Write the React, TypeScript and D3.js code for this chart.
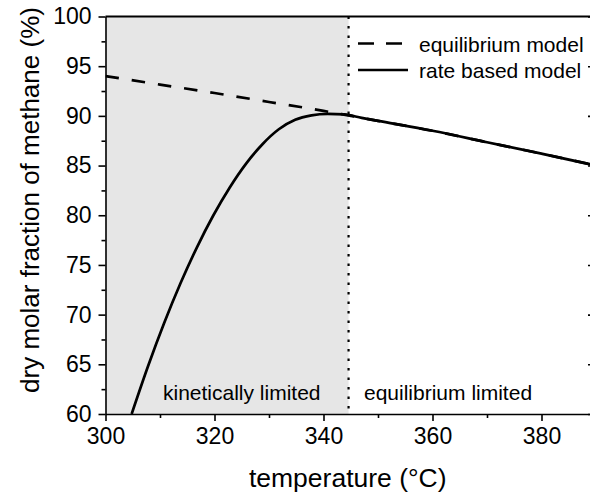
import React, { useEffect, useRef } from 'react';
import * as d3 from 'd3';

// equilibrium model (°C -> %)
const eqTemps = [300, 310, 320, 330, 340, 345, 350, 360, 370, 380, 390, 400];
const eqValues = [94.0, 93.15, 92.3, 91.4, 90.5, 90.0, 89.5, 88.5, 87.35, 86.2, 85.0, 83.7];

// rate based model
const rateTemps = [304.8, 307.8, 310.8, 313.8, 316.8, 319.8, 322.8, 325.8, 328.8, 331.8, 334.8, 337.8, 340.8, 343.8, 347, 350, 360, 370, 380, 390, 400];
const rateValues = [60.0, 64.8, 69.2, 73.2, 76.8, 80.0, 82.8, 85.2, 87.15, 88.65, 89.6, 90.05, 90.2, 90.15, 89.8, 89.5, 88.5, 87.35, 86.2, 85.0, 83.7];

const xMajor = [300, 320, 340, 360, 380];
const xMinor = [310, 330, 350, 370, 390];
const yMajor = [60, 65, 70, 75, 80, 85, 90, 95, 100];
const yMinor = [62.5, 67.5, 72.5, 77.5, 82.5, 87.5, 92.5, 97.5];

const boundaryTemp = 344.6;
const legendLabels = ['equilibrium model', 'rate based model'];
const regionLabels = ['kinetically limited', 'equilibrium limited'];

const W = 590;
const H = 494;
const FONT = '"Liberation Sans", Arial, sans-serif';

export default function App() {
  const svgRef = useRef<SVGSVGElement>(null);

  useEffect(() => {
    const svg = d3.select(svgRef.current);
    svg.selectAll('*').remove();

    const left = 105.5, top = 16.5, bottom = 414, right = 596;
    const x = d3.scaleLinear().domain([300, 390]).range([left, right]);
    const y = d3.scaleLinear().domain([60, 100]).range([bottom, top]);

    svg.append('defs').append('clipPath').attr('id', 'plot-clip')
      .append('rect')
      .attr('x', left).attr('y', top)
      .attr('width', right - left).attr('height', bottom - top);

    // shaded kinetically limited region
    svg.append('rect')
      .attr('x', left).attr('y', top)
      .attr('width', x(boundaryTemp) - left)
      .attr('height', bottom - top)
      .attr('fill', '#e6e6e6');

    // dotted boundary
    svg.append('line')
      .attr('x1', x(boundaryTemp)).attr('x2', x(boundaryTemp))
      .attr('y1', top).attr('y2', bottom)
      .attr('stroke', '#000').attr('stroke-width', 2.2)
      .attr('stroke-dasharray', '2.5,7');

    const plot = svg.append('g').attr('clip-path', 'url(#plot-clip)');
    const line = d3.line<[number, number]>()
      .x(d => x(d[0])).y(d => y(d[1]))
      .curve(d3.curveMonotoneX);

    plot.append('path')
      .attr('d', line(eqTemps.map((t, i) => [t, eqValues[i]])))
      .attr('fill', 'none').attr('stroke', '#000')
      .attr('stroke-width', 2.7)
      .attr('stroke-dasharray', '13.5,13');

    plot.append('path')
      .attr('d', line(rateTemps.map((t, i) => [t, rateValues[i]])))
      .attr('fill', 'none').attr('stroke', '#000')
      .attr('stroke-width', 2.7);

    // axes
    const styleAxis = (g, size = 23) => {
      g.selectAll('path, line').attr('stroke', '#000').attr('stroke-width', 1.6);
      g.selectAll('text').attr('fill', '#000').style('font-family', FONT).style('font-size', `${size}px`);
    };

    const xAx = svg.append('g').attr('transform', `translate(0,${bottom})`)
      .call(d3.axisBottom(x).tickValues(xMajor).tickSize(7).tickSizeOuter(0).tickPadding(7).tickFormat(d3.format('d')));
    styleAxis(xAx);
    const xMin = svg.append('g').attr('transform', `translate(0,${bottom})`)
      .call(d3.axisBottom(x).tickValues(xMinor).tickSize(4).tickFormat(() => ''));
    xMin.select('.domain').remove();
    styleAxis(xMin);

    const yAx = svg.append('g').attr('transform', `translate(${left},0)`)
      .call(d3.axisLeft(y).tickValues(yMajor).tickSize(7).tickSizeOuter(0).tickPadding(7).tickFormat(d3.format('d')));
    styleAxis(yAx);
    const yMin = svg.append('g').attr('transform', `translate(${left},0)`)
      .call(d3.axisLeft(y).tickValues(yMinor).tickSize(4).tickFormat(() => ''));
    yMin.select('.domain').remove();
    styleAxis(yMin);

    // right mirror axis, ticks inward
    const rAx = svg.append('g').attr('transform', `translate(${right},0)`)
      .call(d3.axisLeft(y).tickValues(yMajor).tickSize(8).tickSizeOuter(0).tickFormat(() => ''));
    styleAxis(rAx);

    // top frame
    svg.append('line')
      .attr('x1', left).attr('x2', right).attr('y1', top).attr('y2', top)
      .attr('stroke', '#000').attr('stroke-width', 1.8);

    // axis titles
    svg.append('text')
      .attr('x', (left + 590) / 2).attr('y', 487)
      .attr('text-anchor', 'middle')
      .style('font-family', FONT).style('font-size', '26.5px')
      .text('temperature (°C)');

    svg.append('text')
      .attr('transform', `translate(39,200) rotate(-90)`)
      .attr('text-anchor', 'middle')
      .style('font-family', FONT).style('font-size', '26px')
      .text('dry molar fraction of methane (%)');

    // region labels
    svg.append('text').attr('x', 163).attr('y', 400)
      .style('font-family', FONT).style('font-size', '21px')
      .text(regionLabels[0]);
    svg.append('text').attr('x', 364).attr('y', 400)
      .style('font-family', FONT).style('font-size', '21px')
      .text(regionLabels[1]);

    // legend
    const legend = svg.append('g');
    legendLabels.forEach((label, i) => {
      const ly = 43.5 + i * 26.5;
      legend.append('line')
        .attr('x1', 358).attr('x2', 408).attr('y1', ly).attr('y2', ly)
        .attr('stroke', '#000').attr('stroke-width', 2.7)
        .attr('stroke-dasharray', i === 0 ? '16,12' : null);
      legend.append('text')
        .attr('x', 419).attr('y', ly + 8)
        .style('font-family', FONT).style('font-size', '21px')
        .text(label);
    });
  }, []);

  return (
    <svg
      ref={svgRef}
      width={W}
      height={H}
      style={{ position: 'absolute', left: 0, top: 0, background: 'white' }}
    />
  );
}
